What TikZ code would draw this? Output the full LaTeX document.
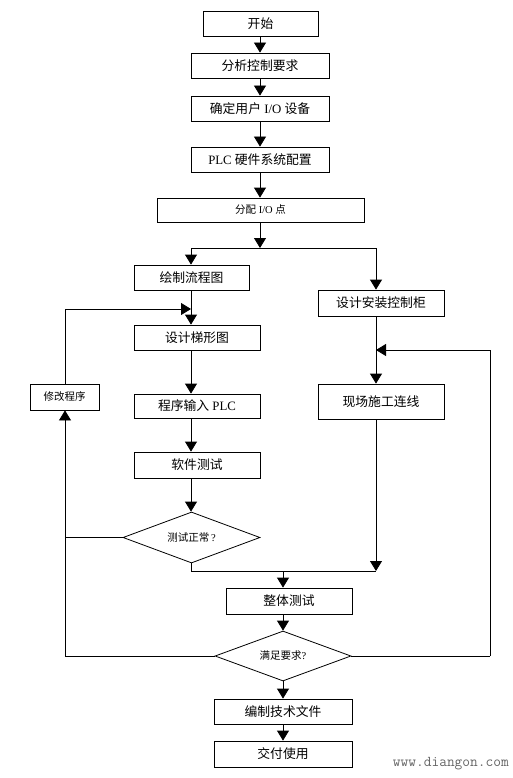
\documentclass[tikz,border=0pt]{standalone}
\usepackage{fontspec}
\setmainfont{Liberation Serif}
\newfontfamily\cjk{Noto Sans CJK SC}
\usetikzlibrary{arrows.meta,shapes.geometric}
\tikzset{
  box/.style={draw, line width=0.8pt, inner sep=0pt, minimum height=25pt, font=\fontsize{12.8}{14}\selectfont},
  sbox/.style={box, font=\fontsize{10.5}{12}\selectfont},
  dia/.style={draw, diamond, line width=0.8pt, inner sep=0pt, aspect=2.7, font=\fontsize{10.5}{12}\selectfont},
  arr/.style={-{Triangle[length=10pt,width=12pt]}, line width=0.8pt},
  ln/.style={line width=0.8pt}
}
\begin{document}
\begin{tikzpicture}[x=1pt,y=-1pt]
\useasboundingbox (0,0) rectangle (513,778);
% boxes
\node[box, minimum width=115pt] (start) at (260.5,23.5) {\cjk 开始};
\node[box, minimum width=138pt] (analyze) at (260,65.5) {\cjk 分析控制要求};
\node[box, minimum width=138pt] (io) at (260,108.5) {{\cjk 确定用户} I/O {\cjk 设备}};
\node[box, minimum width=138pt] (plc) at (260,159.5) {PLC {\cjk 硬件系统配置}};
\node[sbox, minimum width=207pt, minimum height=24pt] (assign) at (260.5,210) {{\cjk 分配} I/O {\cjk 点}};
\node[box, minimum width=115pt] (flow) at (191.5,277.5) {\cjk 绘制流程图};
\node[box, minimum width=126pt, minimum height=26pt] (cabinet) at (381,303) {\cjk 设计安装控制柜};
\node[box, minimum width=126pt] (ladder) at (197,337.5) {\cjk 设计梯形图};
\node[sbox, minimum width=69pt, minimum height=26pt] (modify) at (64.5,397) {\cjk 修改程序};
\node[box, minimum width=126pt, minimum height=24pt] (input) at (197,406) {{\cjk 程序输入} PLC};
\node[box, minimum width=126pt, minimum height=26pt] (soft) at (197,465) {\cjk 软件测试};
\node[dia, minimum width=137pt, minimum height=51pt] (test) at (191.5,537.5) {{\cjk 测试正常}\,?};
\node[box, minimum width=126pt, minimum height=35pt] (site) at (381,401.5) {\cjk 现场施工连线};
\node[box, minimum width=126pt, minimum height=26pt] (whole) at (289,601) {\cjk 整体测试};
\node[dia, minimum width=136pt, minimum height=50pt] (satisfy) at (283,656) {{\cjk 满足要求}?};
\node[box, minimum width=138pt] (doc) at (283,711.5) {\cjk 编制技术文件};
\node[box, minimum width=138pt, minimum height=26pt] (deliver) at (283,754) {\cjk 交付使用};
\node[font=\ttfamily\fontsize{15}{15}\selectfont, text=black!60, anchor=east, inner sep=0pt] (wm) at (509,764) {www.diangon.com};
% coordinates
\coordinate (sp) at (260,248);
\coordinate (cl) at (191,248);
\coordinate (cr) at (376,248);
\coordinate (fb) at (191,309);
\coordinate (rb) at (376,350);
\coordinate (ml) at (191,571);
\coordinate (mr) at (376,571);
\coordinate (mc) at (283,571);
\coordinate (lx) at (65,656);
\coordinate (rx) at (490,656);
\coordinate (rt) at (490,350);
% top column
\draw[arr] (start.south -| sp) -- (analyze.north -| sp);
\draw[arr] (analyze.south -| sp) -- (io.north -| sp);
\draw[arr] (io.south -| sp) -- (plc.north -| sp);
\draw[arr] (plc.south -| sp) -- (assign.north -| sp);
\draw[arr] (assign.south -| sp) -- (sp);
\draw[ln] (cl) -- (cr);
% left column
\draw[arr] (cl) -- (flow.north -| cl);
\draw[arr] (flow.south -| cl) -- (ladder.north -| cl);
\draw[arr] (modify.north -| lx) -- (fb -| lx) -- (fb);
\draw[arr] (ladder.south -| cl) -- (input.north -| cl);
\draw[arr] (input.south -| cl) -- (soft.north -| cl);
\draw[arr] (soft.south -| cl) -- (test.north -| cl);
\draw[ln] (test.west) -- (test.west -| lx);
\draw[ln] (test.south -| cl) -- (ml) -- (mr);
% right column
\draw[arr] (cr) -- (cabinet.north -| cr);
\draw[arr] (cabinet.south -| cr) -- (site.north -| cr);
\draw[arr] (rx) -- (rt) -- (rb);
\draw[arr] (site.south -| cr) -- (mr);
% bottom
\draw[arr] (mc) -- (whole.north -| mc);
\draw[arr] (whole.south -| mc) -- (satisfy.north);
\draw[ln] (satisfy.east) -- (rx);
\draw[arr] (satisfy.west) -- (lx) -- (modify.south -| lx);
\draw[arr] (satisfy.south) -- (doc.north -| mc);
\draw[arr] (doc.south -| mc) -- (deliver.north -| mc);
\end{tikzpicture}
\end{document}
